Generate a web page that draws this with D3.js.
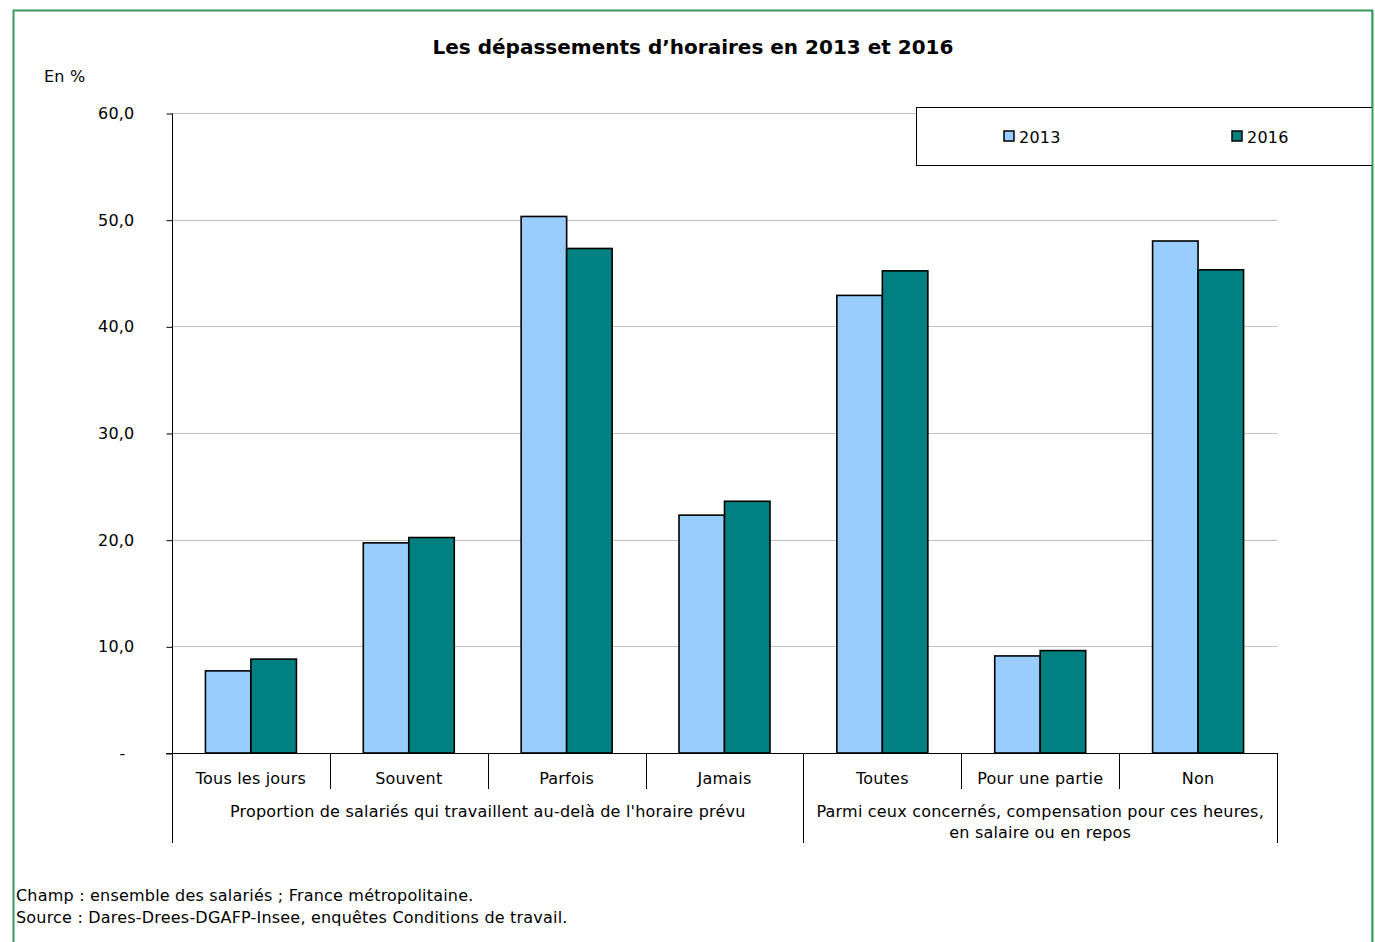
<!DOCTYPE html>
<html>
<head>
<meta charset="utf-8">
<script src="https://cdn.jsdelivr.net/npm/d3@7"></script>
<style>
  body { margin: 0; background: #fff; }
  text { font-family: "DejaVu Sans", Verdana, sans-serif; fill: #000; }
</style>
</head>
<body>
<svg id="chart" width="1375" height="942"></svg>
<script>
// data
var categories = ["Tous les jours", "Souvent", "Parfois", "Jamais", "Toutes", "Pour une partie", "Non"];
var groups = [
    { label: ["Proportion de salariés qui travaillent au-delà de l'horaire prévu"], from: 0, to: 3 },
    { label: ["Parmi ceux concernés, compensation pour ces heures,", "en salaire ou en repos"], from: 4, to: 6 }
];
var series = ["2013", "2016"];
var values2013 = [7.7, 19.7, 50.3, 22.3, 42.9, 9.1, 48.0];
var values2016 = [8.8, 20.2, 47.3, 23.6, 45.2, 9.6, 45.3];
var yTicks = [0, 10, 20, 30, 40, 50, 60];
var colors = ["#99CCFF", "#008080"];

var svg = d3.select("#chart");
var fs = "16px";
var ls = "0.2px";

// green frame
svg.append("rect")
    .attr("x", 13.5).attr("y", 10.5)
    .attr("width", 1359).attr("height", 950)
    .attr("fill", "none")
    .attr("stroke", "#3a9a5e")
    .attr("stroke-width", 2);

var plotLeft = 172, plotRight = 1277, plotTop = 113, plotBottom = 753;

var x = d3.scaleBand().domain(categories).range([plotLeft, plotRight]);
var xSub = d3.scaleBand().domain(series).range([0, x.bandwidth()]).paddingOuter(0.735);
var y = d3.scaleLinear().domain([0, 60]).range([plotBottom, plotTop]);

// title
svg.append("text")
    .attr("x", 693).attr("y", 54)
    .attr("text-anchor", "middle")
    .style("font-weight", "bold")
    .style("font-size", "20px")
    .text("Les dépassements d\u2019horaires en 2013 et 2016");

svg.append("text")
    .attr("x", 44).attr("y", 82)
    .style("font-size", fs)
    .style("letter-spacing", ls)
    .text("En %");

// gridlines
svg.append("g")
    .selectAll("line")
    .data(yTicks.filter(d => d > 0))
    .enter().append("line")
    .attr("x1", plotLeft).attr("x2", plotRight)
    .attr("y1", d => Math.round(y(d)) + 0.5)
    .attr("y2", d => Math.round(y(d)) + 0.5)
    .attr("stroke", "#c0c0c0")
    .attr("stroke-width", 1);

// y axis
var yAxis = d3.axisLeft(y)
    .tickValues(yTicks)
    .tickSize(6)
    .tickPadding(32)
    .tickFormat(d => d === 0 ? "-" : d3.format(".1f")(d).replace(".", ","));
var gy = svg.append("g")
    .attr("transform", "translate(" + (plotLeft + 0.5) + ",0.5)")
    .call(yAxis);
gy.select(".domain").attr("d", "M0," + plotTop + "V" + plotBottom).attr("stroke", "#000");
gy.selectAll(".tick line").attr("stroke", "#000");
gy.selectAll(".tick text")
    .style("font-family", "\"DejaVu Sans\", Verdana, sans-serif")
    .style("font-size", fs)
    .style("letter-spacing", ls);
gy.selectAll(".tick").filter(d => d === 0).select("text").attr("x", -47);

// bars
var data = categories.map((c, i) => ({ cat: c, vals: [values2013[i], values2016[i]] }));
var bars = svg.append("g");
data.forEach(function (d) {
    bars.selectAll(null)
        .data(d.vals)
        .enter().append("rect")
        .attr("x", (v, j) => x(d.cat) + xSub(series[j]))
        .attr("y", v => y(v))
        .attr("width", xSub.bandwidth())
        .attr("height", v => y(0) - y(v))
        .attr("fill", (v, j) => colors[j])
        .attr("stroke", "#000")
        .attr("stroke-width", 1.6);
});

// x axis line
svg.append("line")
    .attr("x1", plotLeft - 6).attr("x2", plotRight)
    .attr("y1", plotBottom + 0.5).attr("y2", plotBottom + 0.5)
    .attr("stroke", "#000");

// category separators
var boundaries = d3.range(categories.length + 1);
svg.append("g")
    .selectAll("line")
    .data(boundaries)
    .enter().append("line")
    .attr("x1", i => Math.round(plotLeft + i * x.step()) + 0.5)
    .attr("x2", i => Math.round(plotLeft + i * x.step()) + 0.5)
    .attr("y1", plotBottom)
    .attr("y2", i => (i === 0 || i === 4 || i === 7) ? 843 : 789)
    .attr("stroke", "#000");

// category labels
svg.append("g")
    .selectAll("text")
    .data(categories)
    .enter().append("text")
    .attr("x", d => x(d) + x.bandwidth() / 2)
    .attr("y", 784)
    .attr("text-anchor", "middle")
    .style("font-size", fs)
    .style("letter-spacing", ls)
    .text(d => d);

// group labels
groups.forEach(function (g) {
    var cx = (x(categories[g.from]) + x(categories[g.to]) + x.bandwidth()) / 2;
    g.label.forEach(function (line, k) {
        svg.append("text")
            .attr("x", cx)
            .attr("y", 817 + k * 21)
            .attr("text-anchor", "middle")
            .style("font-size", fs)
            .style("letter-spacing", ls)
            .text(line);
    });
});

// legend
var legend = svg.append("g");
legend.append("rect")
    .attr("x", 916.5).attr("y", 107.5)
    .attr("width", 470).attr("height", 58)
    .attr("fill", "#fff")
    .attr("stroke", "#000");
var legendX = [1004, 1232];
series.forEach(function (s, j) {
    legend.append("rect")
        .attr("x", legendX[j]).attr("y", 131)
        .attr("width", 10).attr("height", 10)
        .attr("fill", colors[j])
        .attr("stroke", "#000")
        .attr("stroke-width", 1.5);
    legend.append("text")
        .attr("x", legendX[j] + 15).attr("y", 143)
        .style("font-size", fs)
        .style("letter-spacing", ls)
        .text(s);
});

// right frame edge over legend
svg.append("rect").attr("x", 1373).attr("y", 0).attr("width", 10).attr("height", 942).attr("fill", "#fff");
svg.append("line")
    .attr("x1", 1372.5).attr("x2", 1372.5)
    .attr("y1", 10).attr("y2", 942)
    .attr("stroke", "#3a9a5e").attr("stroke-width", 2);

// notes
var notes = ["Champ : ensemble des salariés ; France métropolitaine.",
             "Source : Dares-Drees-DGAFP-Insee, enquêtes Conditions de travail."];
svg.append("g")
    .selectAll("text")
    .data(notes)
    .enter().append("text")
    .attr("x", 16)
    .attr("y", (d, i) => 901 + i * 22)
    .style("font-size", fs)
    .style("letter-spacing", ls)
    .text(d => d);
</script>
</body>
</html>
